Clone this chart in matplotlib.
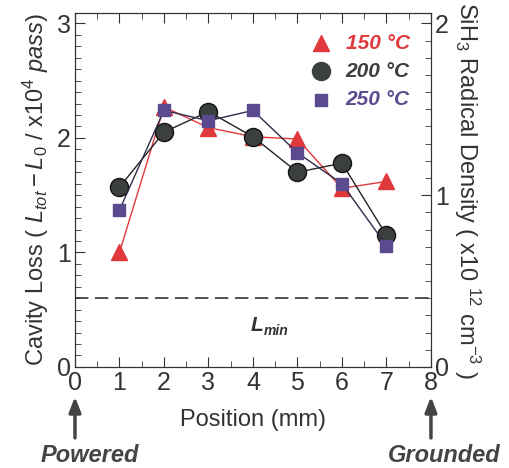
import matplotlib
matplotlib.use("Agg")
import numpy as np
from matplotlib import pyplot as plt
from matplotlib.ticker import MultipleLocator

plt.rcParams['font.family'] = ['Liberation Sans', 'DejaVu Sans']
plt.rcParams['mathtext.fontset'] = 'custom'
plt.rcParams['mathtext.rm'] = 'Liberation Sans'
plt.rcParams['mathtext.it'] = 'Liberation Sans:italic'

# data
position = [1, 2, 3, 4, 5, 6, 7]
loss_150 = [1.00, 2.27, 2.09, 2.01, 1.99, 1.56, 1.62]
loss_200 = [1.57, 2.05, 2.23, 2.01, 1.70, 1.78, 1.15]
loss_250 = [1.37, 2.24, 2.15, 2.24, 1.87, 1.60, 1.06]
labels = ['150 °C', '200 °C', '250 °C']
l_min = 0.6

fig = plt.figure(figsize=(5.1, 4.68), dpi=100)
ax = fig.add_axes([0.147, 0.216, 0.698, 0.756])

red = '#e0393b'
dark = '#3b403c'
purple = '#5c4a8e'
grey = '#333333'

ax.plot(position, loss_150, color=red, lw=1.0, marker='^', ms=11, mfc=red, mec=red, zorder=3)
ax.plot(position, loss_200, color='#222222', lw=1.0, marker='o', ms=13, mfc=dark, mec='#111111', zorder=3)
ax.plot(position, loss_250, color='#2e2a4a', lw=1.0, marker='s', ms=8, mfc=purple, mec=purple, zorder=4)

ax.axhline(l_min, color=grey, lw=1.2, dashes=(8, 4))
ax.text(3.95, 0.36, 'L', fontsize=15, fontweight='bold', fontstyle='italic', color=grey, va='center')
ax.text(4.24, 0.31, 'min', fontsize=10, fontweight='bold', fontstyle='italic', color=grey, va='center')

ax.set_xlim(0, 8)
ax.set_ylim(0, 3.09)
ax.xaxis.set_major_locator(MultipleLocator(1))
ax.xaxis.set_minor_locator(MultipleLocator(0.5))
ax.yaxis.set_major_locator(MultipleLocator(1))
ax.yaxis.set_minor_locator(MultipleLocator(0.1))
ax.tick_params(which='both', direction='in', top=True, labelsize=18, colors=grey, pad=3)
ax.tick_params(axis='y', which='both', right=False)
ax.tick_params(which='major', length=7)
ax.tick_params(which='minor', length=4)
for s in ax.spines.values():
    s.set_color(grey)

ax.set_xlabel('Position (mm)', fontsize=17, color=grey, labelpad=10)
ax.set_ylabel(r'Cavity Loss ( $L_{tot}-L_0$ / x10$^4$ $pass$)', fontsize=17, color=grey, labelpad=4)

ax2 = ax.twinx()
ax2.set_ylim(0, 3.09 / 1.5)
ax2.yaxis.set_major_locator(MultipleLocator(1))
ax2.yaxis.set_minor_locator(MultipleLocator(0.1))
ax2.tick_params(which='both', direction='in', labelsize=18, colors=grey, pad=3)
ax2.tick_params(which='major', length=7)
ax2.tick_params(which='minor', length=4)
ax2.set_ylabel(r'SiH$_3$ Radical Density ( x10 $^{12}$ cm$^{-3}$ )', fontsize=17,
               color=grey, rotation=270, labelpad=24)
for s in ax2.spines.values():
    s.set_color(grey)

# legend
leg_markers = [('^', red, 11), ('o', dark, 13), ('s', purple, 8)]
leg_colors = [red, dark, purple]
for i, (lab, (m, c, ms)) in enumerate(zip(labels, leg_markers)):
    yy = 0.915 - i * 0.08
    ax.plot([0.69], [yy], transform=ax.transAxes, marker=m, ms=ms, color=c, mec=c, clip_on=False)
    ax.text(0.76, yy, lab, transform=ax.transAxes, fontsize=15, fontweight='bold',
            fontstyle='italic', color=leg_colors[i], va='center')

# electrode arrows
for xpos, name, dx in [(0, 'Powered', 0.33), (8, 'Grounded', 0.3)]:
    ax.annotate('', xy=(xpos, -0.26), xytext=(xpos, -0.62), annotation_clip=False,
                arrowprops=dict(arrowstyle='-|>,head_length=0.9,head_width=0.35',
                                color='#444444', lw=2.5, shrinkA=0, shrinkB=0))
    ax.text(xpos + dx, -0.77, name, fontsize=17, fontweight='bold', fontstyle='italic',
            color='#444444', ha='center', va='center', clip_on=False)

fig.savefig('out.png', dpi=100)
